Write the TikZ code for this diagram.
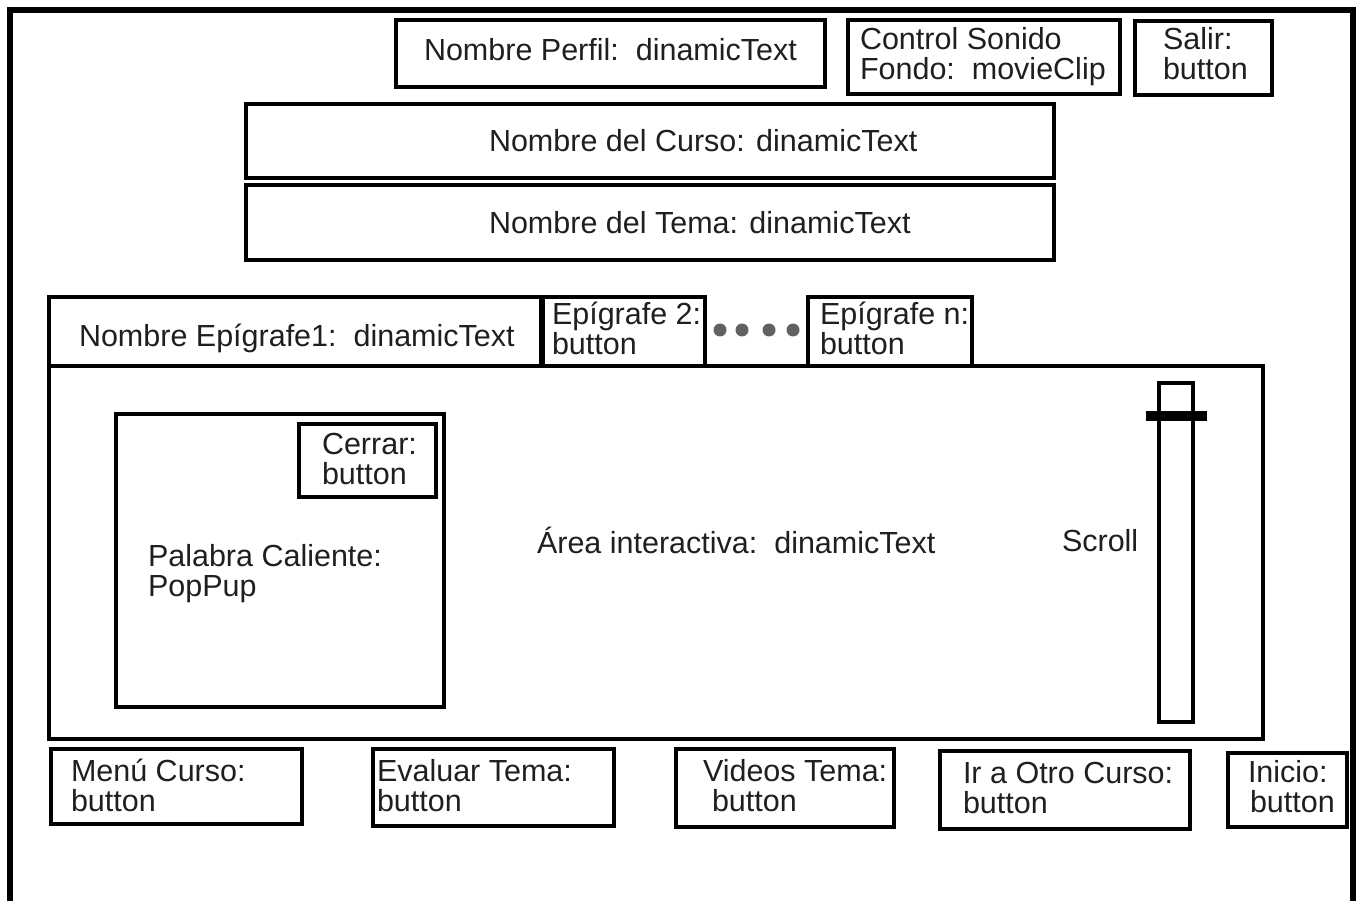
\documentclass[tikz,border=0pt]{standalone}
\usepackage{fontspec}
\setmainfont{Liberation Sans}
\begin{document}
\begin{tikzpicture}[x=1pt,y=-1pt,
  box/.style={draw=black,line width=3.2pt,rectangle,inner sep=0pt,outer sep=0pt,anchor=north west},
  lbl/.style={text=black!88,inner sep=0pt,outer sep=0pt,anchor=base west,align=left,
    font=\fontsize{30.5}{30}\selectfont},
  dot/.style={circle,fill=black!62,inner sep=0pt,minimum size=13pt},
  frame/.style={draw=black,line width=6pt}]
\newcommand\uibox[5]{\node[box,minimum width={(#4-#2)*1pt},minimum height={(#5-#3)*1pt}] (#1) at (#2,#3) {};}
\useasboundingbox (0,0) rectangle (1361,901);
% outer window frame, open at the bottom
\coordinate (fbl) at (10,901);
\coordinate (ftl) at (10,10);
\coordinate (ftr) at (1353,10);
\coordinate (fbr) at (1353,901);
\draw[frame] (fbl) -- (ftl) -- (ftr) -- (fbr);
% header
\uibox{perfil}{396}{20}{825}{87}
\uibox{sonido}{848}{20}{1120}{94}
\uibox{salir}{1135}{21}{1272}{95}
\uibox{curso}{246}{104}{1054}{178}
\uibox{tema}{246}{185}{1054}{260}
% tabs and content area
\uibox{tab1}{49}{297}{541}{366}
\uibox{tab2}{543}{297}{705}{366}
\uibox{tabn}{808}{297}{972}{366}
\uibox{area}{49}{366}{1263}{739}
\uibox{popup}{116}{414}{444}{707}
\uibox{cerrar}{299}{424}{436}{497}
\uibox{scroll}{1159}{383}{1193}{722}
\node[fill=black,inner sep=0pt,outer sep=0pt,anchor=north west,minimum width=61pt,minimum height=10pt] (thumb) at (1146,411) {};
\node[dot] (d1) at (720,330) {};
\node[dot] (d2) at (742,330) {};
\node[dot] (d3) at (769,330) {};
\node[dot] (d4) at (793,330) {};
% bottom buttons
\uibox{menu}{51}{749}{302}{824}
\uibox{evaluar}{373}{749}{614}{826}
\uibox{videos}{676}{749}{894}{827}
\uibox{otro}{940}{751}{1190}{829}
\uibox{inicio}{1228}{753}{1347}{827}
% labels (two-line labels sit on the baseline of their last line)
\node[lbl] (tperfil) at (424,61) {Nombre Perfil:\ \ dinamicText};
\node[lbl] (tsonido) at (860,80) {Control Sonido\\Fondo:\ \ movieClip};
\node[lbl] (tsalir) at (1163,80) {Salir:\\button};
\node[lbl] (tcurso) at (489,152) {Nombre del Curso: dinamicText};
\node[lbl] (ttema) at (489,234) {Nombre del Tema: dinamicText};
\node[lbl] (ttab1) at (79,347) {Nombre Epígrafe1:\ \ dinamicText};
\node[lbl] (ttab2) at (552,355) {Epígrafe 2:\\button};
\node[lbl] (ttabn) at (820,355) {Epígrafe n:\\button};
\node[lbl] (tcerrar) at (322,484) {Cerrar:\\button};
\node[lbl] (tpopup) at (148,596) {Palabra Caliente:\\PopPup};
\node[lbl] (tarea) at (537,553) {Área interactiva:\ \ dinamicText};
\node[lbl] (tscroll) at (1062,551) {Scroll};
\node[lbl] (tmenu) at (71,811) {Menú Curso:\\button};
\node[lbl] (tevaluar) at (377,811) {Evaluar Tema:\\button};
\node[lbl] (tvideos) at (703,811) {Videos Tema:\\\hspace*{9pt}button};
\node[lbl] (totro) at (963,813) {Ir a Otro Curso:\\button};
\node[lbl] (tinicio) at (1248,812) {Inicio:\\\hspace*{2pt}button};
\end{tikzpicture}
\end{document}
